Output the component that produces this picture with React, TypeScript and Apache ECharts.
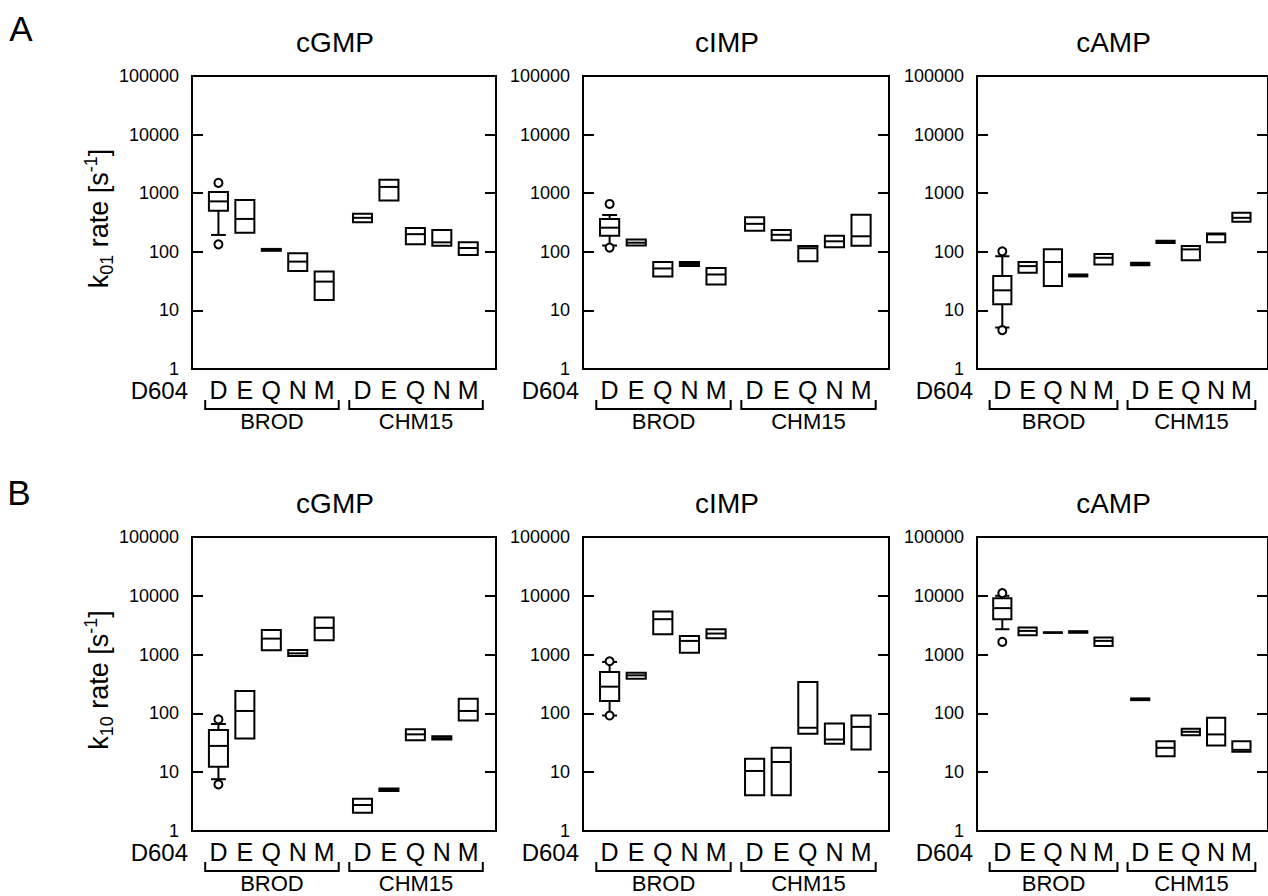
import React, { useEffect, useRef } from "react";
import * as echarts from "echarts";

// ---------- data ----------
const CATS = ["D", "E", "Q", "N", "M"];
const GROUPS = ["BROD", "CHM15"];
const LIGANDS = ["cGMP", "cIMP", "cAMP"];
const MUTANT_LABEL = "D604";

// each row: [whiskerLow, q1, median, q3, whiskerHigh]; order BROD D..M, CHM15 D..M
const k01_cGMP = [
  [194, 500, 725, 1050, 1050],
  [212, 212, 364, 767, 767],
  [104, 104, 108, 112, 112],
  [47, 47, 68, 94, 94],
  [15, 15, 31, 46, 46],
  [320, 320, 380, 445, 445],
  [750, 750, 1280, 1700, 1700],
  [135, 135, 200, 255, 255],
  [127, 127, 145, 236, 236],
  [88, 88, 116, 145, 145],
];
const k01_cGMP_out = [[0, 1500], [0, 134]];

const k01_cIMP = [
  [128, 188, 258, 362, 425],
  [128, 128, 143, 162, 162],
  [38, 38, 52, 67, 67],
  [57, 57, 62, 67, 67],
  [27.6, 27.6, 41, 53, 53],
  [228, 228, 300, 390, 390],
  [157, 157, 195, 236, 236],
  [69, 69, 115, 125, 125],
  [119, 119, 151, 188, 188],
  [127, 127, 184, 428, 428],
];
const k01_cIMP_out = [[0, 656], [0, 118]];

const k01_cAMP = [
  [5.1, 12.7, 22, 38.5, 84],
  [44, 44, 57, 67, 67],
  [26, 26, 67, 110, 110],
  [38, 38, 39.5, 41, 41],
  [61, 61, 79, 92, 92],
  [59, 59, 62, 65, 65],
  [142, 142, 148, 154, 154],
  [72, 72, 110, 125, 125],
  [146, 146, 198, 205, 205],
  [325, 325, 380, 462, 462],
];
const k01_cAMP_out = [[0, 102], [0, 4.6]];

const k10_cGMP = [
  [7.6, 12.4, 28, 52, 66],
  [37.5, 37.5, 110, 240, 240],
  [1186, 1186, 1870, 2630, 2630],
  [950, 950, 1050, 1200, 1200],
  [1755, 1755, 2850, 4270, 4270],
  [2.05, 2.05, 2.77, 3.55, 3.55],
  [4.8, 4.8, 5.0, 5.3, 5.3],
  [35, 35, 44, 53.5, 53.5],
  [36, 36, 38, 41, 41],
  [76, 76, 110, 177, 177],
];
const k10_cGMP_out = [[0, 79], [0, 6.2]];

const k10_cIMP = [
  [92, 163, 285, 507, 750],
  [390, 390, 444, 493, 493],
  [2220, 2220, 4000, 5400, 5400],
  [1080, 1080, 1710, 2080, 2080],
  [1900, 1900, 2280, 2700, 2700],
  [4.04, 4.04, 10.5, 17, 17],
  [4.04, 4.04, 14.9, 26, 26],
  [45, 45, 57, 341, 341],
  [30.5, 30.5, 36, 67.6, 67.6],
  [24.4, 24.4, 59, 92.5, 92.5],
];
const k10_cIMP_out = [[0, 770], [0, 92]];

const k10_cAMP = [
  [2700, 4000, 6170, 9120, 10000],
  [2135, 2135, 2530, 2880, 2880],
  [2350, 2350, 2370, 2390, 2390],
  [2350, 2350, 2430, 2500, 2500],
  [1405, 1405, 1710, 1950, 1950],
  [168, 168, 173, 180, 180],
  [18.7, 18.7, 26, 33.7, 33.7],
  [42.7, 42.7, 48.7, 55, 55],
  [28.5, 28.5, 43.9, 84.4, 84.4],
  [22.2, 22.2, 24, 33.7, 33.7],
];
const k10_cAMP_out = [[0, 11100], [0, 1645]];

// ---------- layout ----------
const FONT = '"Liberation Sans", Arial, Helvetica, sans-serif';
const POS = [1, 2, 3, 4, 5, 6.45, 7.45, 8.45, 9.45, 10.45];
const X_MAX = 11.5;
const ROW_TOP = [76, 537];
const ROW_H = [293, 294];
const COL_LEFT = [192, 583, 977];
const COL_W = [304, 306, 302];

function renderBox(params: any, api: any) {
  const x = api.value(0);
  const low = api.value(1);
  const q1 = api.value(2);
  const med = api.value(3);
  const q3 = api.value(4);
  const high = api.value(5);
  const cx = api.coord([x, med])[0];
  const half = api.coord([x + 0.36, med])[0] - cx;
  const capHalf = api.coord([x + 0.28, med])[0] - cx;
  const yQ1 = api.coord([x, q1])[1];
  const yQ3 = api.coord([x, q3])[1];
  const yMed = api.coord([x, med])[1];
  const yLow = api.coord([x, low])[1];
  const yHigh = api.coord([x, high])[1];
  const ls = { stroke: "#000", lineWidth: 2 };
  const children: any[] = [];
  if (high > q3) {
    children.push({ type: "line", shape: { x1: cx, y1: yQ3, x2: cx, y2: yHigh }, style: ls });
    children.push({ type: "line", shape: { x1: cx - capHalf, y1: yHigh, x2: cx + capHalf, y2: yHigh }, style: ls });
  }
  if (low < q1) {
    children.push({ type: "line", shape: { x1: cx, y1: yQ1, x2: cx, y2: yLow }, style: ls });
    children.push({ type: "line", shape: { x1: cx - capHalf, y1: yLow, x2: cx + capHalf, y2: yLow }, style: ls });
  }
  children.push({
    type: "rect",
    shape: { x: cx - half, y: yQ3, width: half * 2, height: Math.max(yQ1 - yQ3, 0.5) },
    style: { fill: "#fff", stroke: "#000", lineWidth: 2 },
  });
  children.push({ type: "line", shape: { x1: cx - half, y1: yMed, x2: cx + half, y2: yMed }, style: ls });
  return { type: "group", children };
}

export default function App() {
  const ref = useRef<HTMLDivElement>(null);
  useEffect(() => {
    document.body.style.margin = "0";
    const chart = echarts.init(ref.current!, null, { renderer: "svg" });
    const panels = [
      { row: 0, col: 0, boxes: k01_cGMP, out: k01_cGMP_out },
      { row: 0, col: 1, boxes: k01_cIMP, out: k01_cIMP_out },
      { row: 0, col: 2, boxes: k01_cAMP, out: k01_cAMP_out },
      { row: 1, col: 0, boxes: k10_cGMP, out: k10_cGMP_out },
      { row: 1, col: 1, boxes: k10_cIMP, out: k10_cIMP_out },
      { row: 1, col: 2, boxes: k10_cAMP, out: k10_cAMP_out },
    ];
    const grids: any[] = [];
    const xAxes: any[] = [];
    const yAxes: any[] = [];
    const series: any[] = [];
    const yBase = (i: number, pos: "left" | "right") => ({
      type: "log",
      logBase: 10,
      gridIndex: i,
      min: 1,
      max: 100000,
      position: pos,
      axisLine: { show: false },
      axisTick: { show: true, inside: true, length: 11, lineStyle: { color: "#000", width: 2 } },
      axisLabel: {
        show: pos === "left",
        formatter: (v: number) => String(Math.round(v)),
        color: "#000",
        fontSize: 18,
        lineHeight: 14,
        fontFamily: FONT,
        margin: 13,
      },
      splitLine: { show: false },
    });
    panels.forEach((p, i) => {
      grids.push({
        left: COL_LEFT[p.col],
        top: ROW_TOP[p.row],
        width: COL_W[p.col],
        height: ROW_H[p.row],
        show: true,
        borderColor: "#000",
        borderWidth: 2,
        backgroundColor: "transparent",
      });
      xAxes.push({ type: "value", gridIndex: i, min: 0, max: X_MAX, show: false });
      yAxes.push(yBase(i, "left"));
      yAxes.push(yBase(i, "right"));
      series.push({
        type: "custom",
        xAxisIndex: i,
        yAxisIndex: 2 * i,
        data: p.boxes.map((b, j) => [POS[j], ...b]),
        encode: { x: 0, y: [1, 2, 3, 4, 5] },
        renderItem: renderBox,
        clip: false,
      });
      series.push({
        type: "scatter",
        xAxisIndex: i,
        yAxisIndex: 2 * i,
        data: p.out.map(([j, v]) => [POS[j], v]),
        symbol: "circle",
        symbolSize: 8,
        itemStyle: { color: "#fff", borderColor: "#000", borderWidth: 2, opacity: 1 },
        z: 5,
      });
    });
    chart.setOption({
      animation: false,
      backgroundColor: "#fff",
      grid: grids,
      xAxis: xAxes,
      yAxis: yAxes,
      series,
    });

    const g: any[] = [];
    const txt = (text: string, x: number, y: number, size: number, align = "center") =>
      g.push({
        type: "text",
        x,
        y,
        style: {
          text,
          font: `${size}px ${FONT}`,
          fill: "#000",
          textAlign: align,
          textVerticalAlign: "middle",
        },
      });
    panels.forEach((p, i) => {
      const px = (v: number) => chart.convertToPixel({ gridIndex: i } as any, [v, 1])[0];
      const bottom = chart.convertToPixel({ gridIndex: i } as any, [0, 1])[1];
      const top = chart.convertToPixel({ gridIndex: i } as any, [0, 100000])[1];
      const left = px(0);
      const right = px(X_MAX);
      txt(LIGANDS[p.col], (left + right) / 2 - 9, top - 34, 28);
      txt(MUTANT_LABEL, left - 4, bottom + 21, 24, "right");
      POS.forEach((x, j) => txt(CATS[j % 5], px(x), bottom + 21, 25));
      const brackets = [
        [0.5, 5.55],
        [5.95, 11.0],
      ];
      brackets.forEach(([a, b], k) => {
        const xa = px(a);
        const xb = px(b);
        g.push({
          type: "polyline",
          shape: { points: [[xa, bottom + 31], [xa, bottom + 40], [xb, bottom + 40], [xb, bottom + 31]] },
          style: { stroke: "#000", lineWidth: 2, fill: null },
        });
        txt(GROUPS[k], (xa + xb) / 2, bottom + 52, 22);
      });
      if (p.col === 0) {
        const sub = p.row === 0 ? "01" : "10";
        g.push({
          type: "text",
          x: 99,
          y: (top + bottom) / 2 - 4,
          rotation: Math.PI / 2,
          style: {
            text: `{n|k}{sub|${sub}}{n| rate [s}{sup|-1}{n|]}`,
            textAlign: "center",
            textVerticalAlign: "middle",
            fill: "#000",
            rich: {
              n: { fontSize: 27, fontFamily: FONT, lineHeight: 34, verticalAlign: "middle", fill: "#000" },
              sub: { fontSize: 18, fontFamily: FONT, lineHeight: 14, verticalAlign: "bottom", fill: "#000" },
              sup: { fontSize: 18, fontFamily: FONT, lineHeight: 14, verticalAlign: "top", fill: "#000" },
            },
          },
        });
      }
    });
    txt("A", 21, 28, 35);
    txt("B", 19, 492, 35);
    chart.setOption({ graphic: g });
    return () => chart.dispose();
  }, []);
  return <div ref={ref} style={{ width: 1268, height: 896 }} />;
}
